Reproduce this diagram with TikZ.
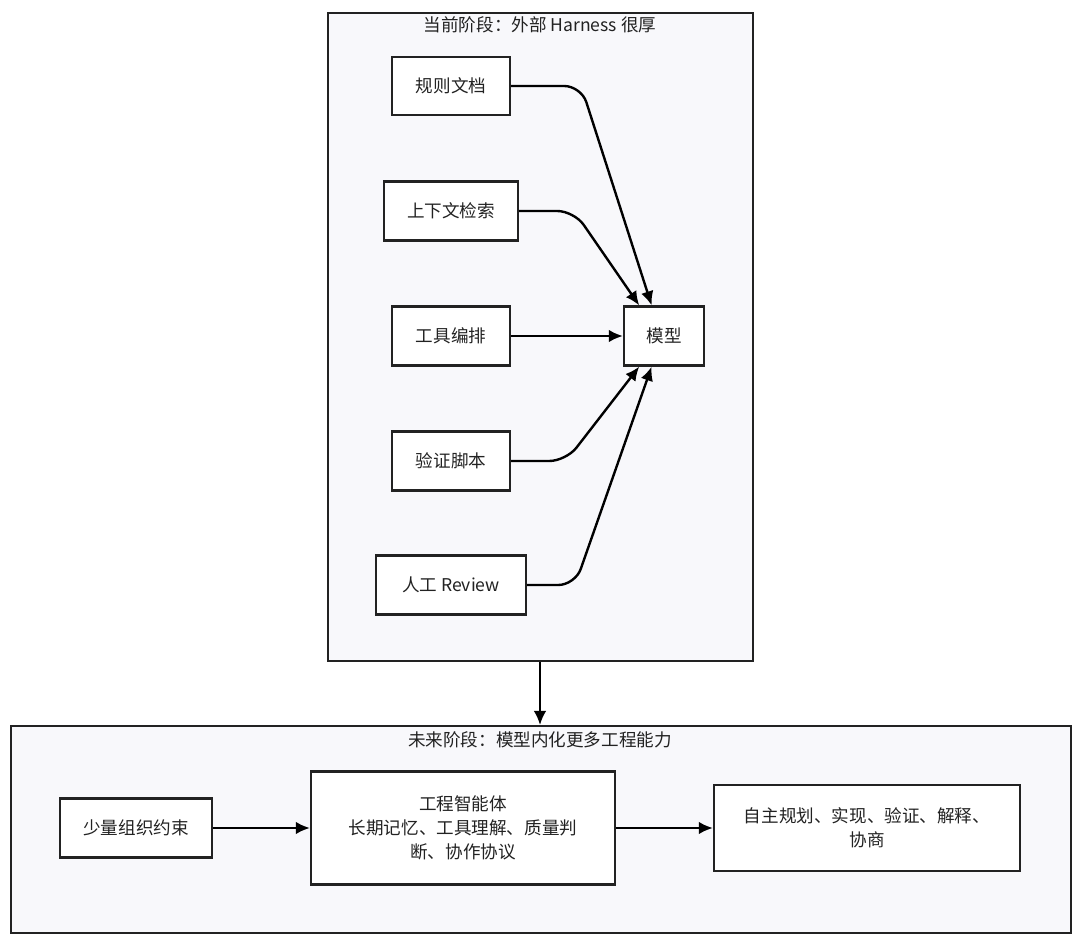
\documentclass[tikz,border=0pt]{standalone}
\usepackage{fontspec}
\setmainfont{Noto Sans CJK SC}
\usetikzlibrary{arrows.meta,positioning}
\definecolor{panelfill}{HTML}{F8F8FB}
\definecolor{inkline}{HTML}{222222}
\begin{document}
\begin{tikzpicture}
            [
                x=0.025cm, y=-0.025cm,
                panel/.style={rectangle, draw=inkline, fill=panelfill, line width=1.6pt, anchor=north west, inner sep=0pt},
                stagebox/.style={rectangle, draw=inkline, fill=white, line width=1.6pt, font=\fontsize{12.5}{17}\selectfont, text=inkline, align=center, inner sep=0pt},
                title/.style={font=\fontsize{12.5}{15}\selectfont, text=inkline},
                link/.style={-{Latex[length=10pt,width=9pt]}, line width=1.7pt, draw=black, rounded corners=12pt},
            ]
            \useasboundingbox (0,0) rectangle (1080,944);

            %% CURRENT STAGE
            \node[panel, minimum width=425*0.025cm, minimum height=648*0.025cm] (now) at(327,12) {};
            \node[title] (nowtitle) at(540,25) {当前阶段：外部 Harness 很厚};

            \node[stagebox, minimum width=118*0.025cm, minimum height=58*0.025cm] (rules) at(451,86) {规则文档};
            \node[stagebox, minimum width=134*0.025cm, minimum height=59*0.025cm] (search) at(451,211) {上下文检索};
            \node[stagebox, minimum width=118*0.025cm, minimum height=59*0.025cm] (tools) at(451,336) {工具编排};
            \node[stagebox, minimum width=118*0.025cm, minimum height=59*0.025cm] (verify) at(451,461) {验证脚本};
            \node[stagebox, minimum width=150*0.025cm, minimum height=59*0.025cm] (review) at(451,585) {人工 Review};
            \node[stagebox, minimum width=80*0.025cm, minimum height=59*0.025cm] (model) at(664,336) {模型};

            \draw[link] (rules.east) -- ++(70,0) -- (model.112);
            \draw[link] (search.east) -- ++(55,0) -- (model.129);
            \draw[link] (tools) -- (model);
            \draw[link] (verify.east) -- ++(55,0) -- (model.231);
            \draw[link] (review.east) -- ++(48,0) -- (model.248);

            %% FUTURE STAGE
            \node[panel, minimum width=1060*0.025cm, minimum height=207*0.025cm] (later) at(10,725) {};
            \node[title] (latertitle) at(540,740) {未来阶段：模型内化更多工程能力};
            \draw[link] (now.south -| 540,0) -- (later.north -| 540,0);

            \node[stagebox, minimum width=152*0.025cm, minimum height=59*0.025cm] (rulesmin) at(136,828) {少量组织约束};
            \node[stagebox, minimum width=304*0.025cm, minimum height=113*0.025cm] (agent) at(463,828) {工程智能体\\长期记忆、工具理解、质量判\\断、协作协议};
            \node[stagebox, minimum width=306*0.025cm, minimum height=86*0.025cm] (auto) at(867,828) {自主规划、实现、验证、解释、\\协商};

            \draw[link] (rulesmin) -- (agent);
            \draw[link] (agent) -- (auto);
        \end{tikzpicture}
\end{document}
